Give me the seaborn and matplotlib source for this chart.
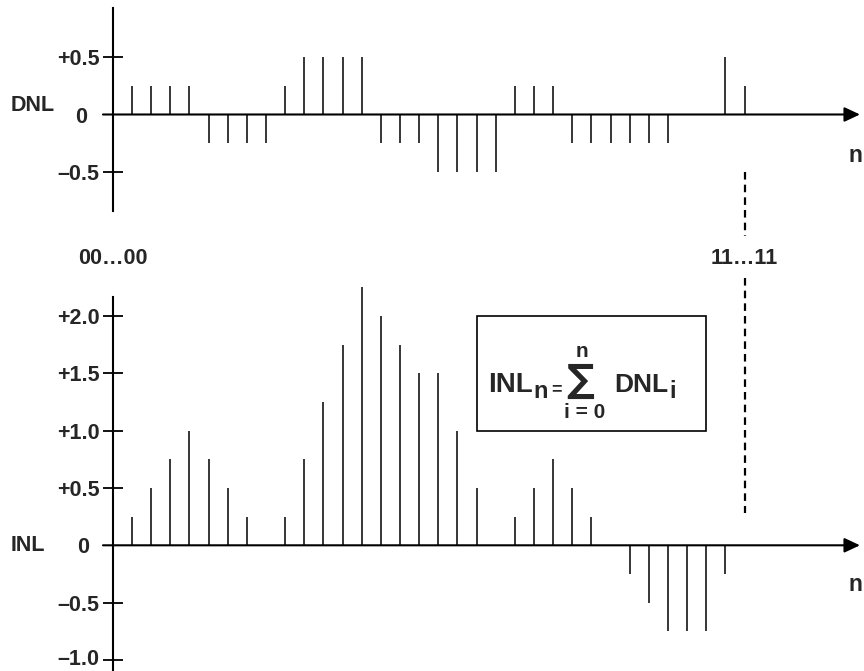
import numpy as np
import matplotlib
matplotlib.use("Agg")
import matplotlib.pyplot as plt
import matplotlib.transforms as mtransforms
from matplotlib.patches import Rectangle
import seaborn as sns

# code index n (00...00 at 0, 11...11 at 33)
codes = np.arange(1, 34)

# differential nonlinearity per code (LSB)
dnl = [0.25, 0.25, 0.25, 0.25, -0.25, -0.25, -0.25, -0.25, 0.25,
       0.5, 0.5, 0.5, 0.5, -0.25, -0.25, -0.25, -0.5, -0.5, -0.5, -0.5,
       0.25, 0.25, 0.25, -0.25, -0.25, -0.25, -0.25, -0.25, -0.25,
       0, 0, 0.5, 0.25]

# integral nonlinearity per code (LSB), as drawn
inl = [0.25, 0.5, 0.75, 1.0, 0.75, 0.5, 0.25, 0, 0.25,
       0.75, 1.25, 1.75, 2.25, 2.0, 1.75, 1.5, 1.5, 1.0, 0.5, 0,
       0.25, 0.5, 0.75, 0.5, 0.25, 0, -0.25, -0.5, -0.75, -0.75,
       -0.75, -0.25, 0]

dnl_ticks = [0.5, -0.5]
dnl_ticklabels = ["+0.5", "\u20130.5"]
inl_ticks = [2.0, 1.5, 1.0, 0.5, -0.5, -1.0]
inl_ticklabels = ["+2.0", "+1.5", "+1.0", "+0.5", "\u20130.5", "\u20131.0"]
code_labels = ["00\u202600", "11\u202611"]
code_label_pos = [0, 33]

sns.set_theme(style="white")
plt.rcParams["font.family"] = ["Liberation Sans", "DejaVu Sans"]
plt.rcParams["font.weight"] = "bold"

W, H = 8.64, 6.71
fig = plt.figure(figsize=(W, H), dpi=100)
split = 240 / 671
ax_top = fig.add_axes([0, 1 - split, 1, split])
ax_bot = fig.add_axes([0, 0, 1, 1 - split])

XLIM = (-5.899, 39.24)
FS = 15.5


def style_axis(ax, ylim, bounds, ticks, labels):
    ax.set_xlim(*XLIM)
    ax.set_ylim(*ylim)
    ax.patch.set_alpha(0)
    for s in ["top", "right", "bottom"]:
        ax.spines[s].set_visible(False)
    sp = ax.spines["left"]
    sp.set_position(("data", 0))
    sp.set_bounds(*bounds)
    sp.set_linewidth(1.5)
    sp.set_color("black")
    ax.set_xticks([])
    ax.set_yticks(ticks)
    ax.set_yticklabels(labels, fontsize=FS, fontweight="bold")
    ax.tick_params(axis="y", direction="inout", length=14.4, width=1.3,
                   pad=2.2, color="black", left=True)
    # zero line with arrow head
    ax.annotate("", xy=(39.03, 0), xytext=(-0.52, 0),
                arrowprops=dict(arrowstyle="-|>,head_length=9.4,head_width=4.4",
                                mutation_scale=1, lw=1.5, color="black",
                                shrinkA=0, shrinkB=0))


# ---- DNL panel ----
style_axis(ax_top, (-1.0875, 0.992), (-0.836, 0.923), dnl_ticks, dnl_ticklabels)
ax_top.vlines(codes, 0, dnl, colors="black", lw=1.1)
ax_top.text(-4.2, 0.074, "DNL", fontsize=FS, fontweight="bold", ha="center", va="center")
ax_top.text(-1.667, -0.022, "0", fontsize=FS, fontweight="bold", ha="center", va="center")
ax_top.text(38.45, -0.355, "n", fontsize=FS + 1, fontweight="bold", ha="left", va="center")
ax_top.plot([33, 33], [-0.5, -1.05], color="black", lw=1.6, ls=(0, (3.4, 2.3)))

# ---- INL panel ----
style_axis(ax_bot, (-1.096, 2.662), (-1.2, 2.167), inl_ticks, inl_ticklabels)
# nudge the bottom tick label so it stays inside the figure
last = ax_bot.get_yticklabels()[-1]
last.set_transform(last.get_transform() + mtransforms.ScaledTranslation(0, 2 / 72, fig.dpi_scale_trans))
ax_bot.vlines(codes, 0, inl, colors="black", lw=1.1)
ax_bot.text(-4.46, 0.0, "INL", fontsize=FS, fontweight="bold", ha="center", va="center")
ax_bot.text(-1.56, -0.015, "0", fontsize=FS, fontweight="bold", ha="center", va="center")
ax_bot.text(38.45, -0.346, "n", fontsize=FS + 1, fontweight="bold", ha="left", va="center")
for x, lab in zip(code_label_pos, code_labels):
    ax_bot.text(x, 2.50, lab, fontsize=FS, fontweight="bold", ha="center", va="center")
ax_bot.plot([33, 33], [2.33, 0.28], color="black", lw=1.6, ls=(0, (3.4, 2.3)))

# formula box
ax_bot.add_patch(Rectangle((19.0, 1.0), 12.0, 1.0, fill=False, ec="black", lw=1.2))
ax_bot.text(19.6, 1.337, "INL", fontsize=20, fontweight="bold", ha="left", va="baseline")
ax_bot.text(21.98, 1.284, "n", fontsize=17, fontweight="bold", ha="left", va="baseline")
ax_bot.text(23.2, 1.36, "=", fontsize=13, fontweight="bold", ha="center", va="center")
ax_bot.text(24.42, 1.43, "\u2211", fontsize=28, family="DejaVu Sans",
            fontweight="bold", ha="center", va="center")
ax_bot.text(24.48, 1.694, "n", fontsize=15, fontweight="bold", ha="center", va="center")
ax_bot.text(24.64, 1.158, "i = 0", fontsize=15, fontweight="bold", ha="center", va="center")
ax_bot.text(26.18, 1.337, "DNL", fontsize=19, fontweight="bold", ha="left", va="baseline")
ax_bot.text(29.05, 1.284, "i", fontsize=17, fontweight="bold", ha="left", va="baseline")

fig.savefig("out.png", dpi=100)
